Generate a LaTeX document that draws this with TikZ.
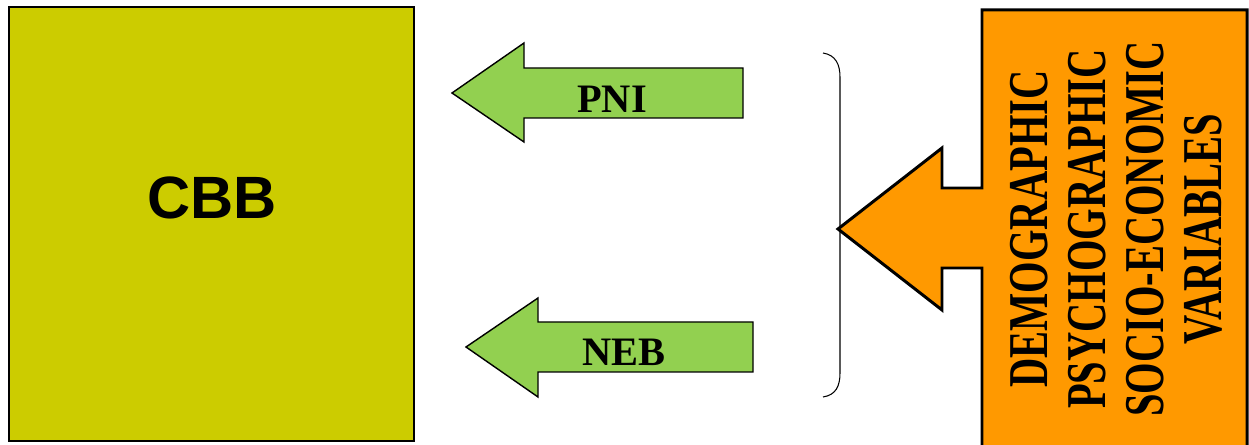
\documentclass[tikz,border=0pt]{standalone}
\usepackage{fontspec}
\usepackage{graphicx}
\setmainfont{Liberation Serif}
\setsansfont{Liberation Sans}
\definecolor{cbbyellow}{HTML}{CCCC00}
\definecolor{armgreen}{HTML}{92D050}
\definecolor{varorange}{HTML}{FF9900}
\tikzset{
  arm/.style={draw=black,fill=armgreen,line width=0.8pt,line join=miter},
  armlabel/.style={inner sep=0pt,font=\fontsize{23}{23}\selectfont\bfseries},
}
\begin{document}
\begin{tikzpicture}[x=0.02cm,y=-0.02cm]
\clip (0,0) rectangle (1249,445);
% CBB box
\draw[fill=cbbyellow,line width=0.6pt](9,7) rectangle (414,441);
\node[inner sep=0pt,font=\sffamily\bfseries\fontsize{34}{34}\selectfont] (cbb) at (212,198) {CBB};
% PNI
\draw[arm](452,93)--(524,43)--(524,68)--(743,68)--(743,118)--(524,118)--(524,142)--cycle;
\node[armlabel] (pni) at (612,99) {PNI};
% NEB
\draw[arm](466,347)--(538,298)--(538,322)--(753,322)--(753,372)--(538,372)--(538,397)--cycle;
\node[armlabel] (neb) at (624,352) {NEB};
% brace
\draw[line width=0.6pt](823,53) .. controls (836,55) and (840,65) .. (840,77)--(840,373) .. controls (840,386) and (836,395) .. (823,397);
% variables box with its arrow
\draw[fill=varorange,line width=1.7pt,line join=miter](982,10)--(1247,10)--(1247,460)--(982,460)--(982,268)--(942,268)--(942,310)--(838,229)--(942,148)--(942,188)--(982,188)--cycle;
\node[rotate=90,inner sep=0pt] (vars) at (1123,229) {\scalebox{0.72}[1]{\fontsize{32}{33}\selectfont\bfseries
\begin{tabular}{@{}c@{}}DEMOGRAPHIC\\PSYCHOGRAPHIC\\SOCIO-ECONOMIC\\VARIABLES\end{tabular}}};
\end{tikzpicture}
\end{document}
